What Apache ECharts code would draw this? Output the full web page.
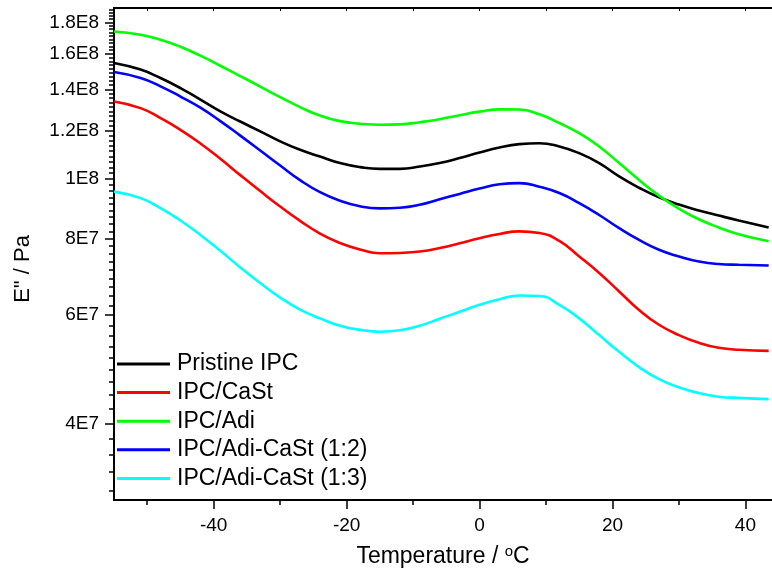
<!DOCTYPE html>
<html><head><meta charset="utf-8">
<script src="https://cdn.jsdelivr.net/npm/echarts@6/dist/echarts.min.js"></script>
<style>html,body{margin:0;padding:0;background:#fff}#c{width:772px;height:579px}</style>
</head><body><div id="c"></div>
<script>
// Temperature (°C)
const temperature = [-55,-51,-48,-45,-42,-39,-36,-33,-30,-27,-24,-21,-18,-15,-12,-9,-6,-3,0,3,6,9,12,15,18,21,24,27,30,33,36,39,43.5];
// E'' (Pa)
const pristineIPC = [1.546e8,1.508e8,1.461e8,1.407e8,1.347e8,1.289e8,1.241e8,1.196e8,1.152e8,1.116e8,1.088e8,1.062e8,1.046e8,1.039e8,1.039e8,1.048e8,1.062e8,1.082e8,1.105e8,1.126e8,1.140e8,1.144e8,1.130e8,1.102e8,1.062e8,1.010e8,9.68e7,9.34e7,9.09e7,8.89e7,8.72e7,8.56e7,8.34e7];
const ipcCaSt = [1.338e8,1.305e8,1.257e8,1.203e8,1.143e8,1.079e8,1.015e8,9.56e7,9.02e7,8.55e7,8.15e7,7.87e7,7.68e7,7.57e7,7.58e7,7.62e7,7.72e7,7.86e7,8.01e7,8.14e7,8.22e7,8.17e7,7.93e7,7.48e7,7.03e7,6.56e7,6.12e7,5.79e7,5.57e7,5.41e7,5.31e7,5.27e7,5.25e7];
const ipcAdi = [1.740e8,1.719e8,1.687e8,1.643e8,1.589e8,1.530e8,1.472e8,1.415e8,1.360e8,1.310e8,1.269e8,1.243e8,1.231e8,1.226e8,1.228e8,1.238e8,1.252e8,1.271e8,1.288e8,1.299e8,1.298e8,1.275e8,1.234e8,1.188e8,1.130e8,1.062e8,9.97e7,9.40e7,8.95e7,8.60e7,8.34e7,8.13e7,7.92e7];
const ipcAdiCaSt12 = [1.494e8,1.461e8,1.416e8,1.363e8,1.307e8,1.243e8,1.177e8,1.113e8,1.052e8,9.96e7,9.52e7,9.22e7,9.03e7,8.96e7,8.98e7,9.08e7,9.27e7,9.46e7,9.65e7,9.81e7,9.85e7,9.72e7,9.49e7,9.14e7,8.74e7,8.32e7,7.96e7,7.67e7,7.48e7,7.34e7,7.27e7,7.25e7,7.23e7];
const ipcAdiCaSt13 = [9.54e7,9.31e7,8.97e7,8.56e7,8.11e7,7.64e7,7.18e7,6.77e7,6.41e7,6.13e7,5.93e7,5.77e7,5.68e7,5.64e7,5.67e7,5.77e7,5.92e7,6.08e7,6.24e7,6.37e7,6.46e7,6.45e7,6.24e7,5.93e7,5.57e7,5.23e7,4.94e7,4.72e7,4.58e7,4.48e7,4.42e7,4.40e7,4.38e7];

const seriesNames = ['Pristine IPC','IPC/CaSt','IPC/Adi','IPC/Adi-CaSt (1:2)','IPC/Adi-CaSt (1:3)'];
const seriesData = [pristineIPC, ipcCaSt, ipcAdi, ipcAdiCaSt12, ipcAdiCaSt13];
const seriesColors = ['#000000','#ff0000','#00ff00','#0000ff','#00ffff'];

const yTickValues = [4e7,6e7,8e7,1e8,1.2e8,1.4e8,1.6e8,1.8e8];
const yTickLabels = ['4E7','6E7','8E7','1E8','1.2E8','1.4E8','1.6E8','1.8E8'];
const xMajorTicks = [-40,-20,0,20,40];
const xMinorTicks = [-50,-30,-10,10,30];
const xTopTicks = [-50,-40,-30,-20,-10,0,10,20,30,40];

const yMin = 3e7, yMax = 1.9e8;
const xMin = -55, xMax = 44;

// minor y ticks: 8 per major interval
const yMinor = [];
const step = (yTickValues[1] - yTickValues[0]) / 9;
for (let v = yTickValues[0] - step; v > yMin; v -= step) yMinor.push(v);
for (let i = 0; i < yTickValues.length - 1; i++) {
  for (let k = 1; k <= 8; k++) yMinor.push(yTickValues[i] + k * step);
}
for (let v = yTickValues[yTickValues.length - 1] + step; v < yMax; v += step) yMinor.push(v);

const FONT = "'Liberation Sans', Arial, sans-serif";

const chart = echarts.init(document.getElementById('c'), null, {renderer: 'canvas'});
chart.setOption({
  backgroundColor: '#ffffff',
  animation: false,
  grid: {left: 114, top: 8, right: 0, bottom: 79, containLabel: false},
  legend: {
    orient: 'vertical', left: 112, top: 347,
    itemWidth: 53, itemHeight: 3, itemGap: 4.6, icon: 'rect',
    textStyle: {fontFamily: FONT, fontSize: 23, color: '#000', lineHeight: 24, padding: [0,0,0,2]},
    data: seriesNames
  },
  xAxis: [
    {
      type: 'value', min: xMin, max: xMax, position: 'bottom',
      name: '{t|Temperature / }{s|o}{t|C}', nameLocation: 'middle', nameGap: 44,
      nameTextStyle: {rich: {
        t: {fontFamily: FONT, fontSize: 23, color: '#000', lineHeight: 26},
        s: {fontFamily: FONT, fontSize: 15, color: '#000', lineHeight: 26, padding: [0,0,10,0]}
      }},
      axisLine: {show: true, onZero: false, lineStyle: {color: '#000', width: 2}},
      axisTick: {show: true, inside: false, length: 9, customValues: xMajorTicks, lineStyle: {color: '#000', width: 1.5}},
      axisLabel: {show: true, customValues: xMajorTicks, fontFamily: FONT, fontSize: 19, color: '#000', margin: 16},
      splitLine: {show: false}
    },
    {
      type: 'value', min: xMin, max: xMax, position: 'bottom',
      axisLine: {show: false, onZero: false},
      axisTick: {show: true, inside: false, length: 5, customValues: xMinorTicks, lineStyle: {color: '#000', width: 1.5}},
      axisLabel: {show: false}, splitLine: {show: false}
    },
    {
      type: 'value', min: xMin, max: xMax, position: 'top',
      axisLine: {show: true, onZero: false, lineStyle: {color: '#000', width: 2}},
      axisTick: {show: true, inside: true, length: 3, customValues: xTopTicks, lineStyle: {color: '#000', width: 1}},
      axisLabel: {show: false}, splitLine: {show: false}
    }
  ],
  yAxis: [
    {
      type: 'log', logBase: 10, min: yMin, max: yMax, position: 'left',
      name: 'E" / Pa', nameLocation: 'middle', nameGap: 80, nameRotate: 90,
      nameTextStyle: {fontFamily: FONT, fontSize: 22, color: '#000', padding: [0, 30, 0, 0]},
      axisLine: {show: true, onZero: false, lineStyle: {color: '#000', width: 2}},
      axisTick: {show: true, inside: false, length: 9, customValues: yTickValues, lineStyle: {color: '#000', width: 1.5}},
      axisLabel: {
        show: true, customValues: yTickValues, fontFamily: FONT, fontSize: 19, color: '#000', margin: 15,
        formatter: function (v) {
          let best = 0;
          for (let i = 1; i < yTickValues.length; i++) {
            if (Math.abs(yTickValues[i] - v) < Math.abs(yTickValues[best] - v)) best = i;
          }
          return yTickLabels[best];
        }
      },
      splitLine: {show: false}
    },
    {
      type: 'log', logBase: 10, min: yMin, max: yMax, position: 'left',
      axisLine: {show: false, onZero: false},
      axisTick: {show: true, inside: false, length: 5, customValues: yMinor, lineStyle: {color: '#000', width: 1.5}},
      axisLabel: {show: false}, splitLine: {show: false}
    }
  ],
  series: seriesNames.map(function (name, i) {
    return {
      name: name, type: 'line', xAxisIndex: 0, yAxisIndex: 0,
      smooth: 0.5, showSymbol: false, symbol: 'none',
      lineStyle: {color: seriesColors[i], width: 2.6},
      itemStyle: {color: seriesColors[i]},
      data: temperature.map(function (t, j) { return [t, seriesData[i][j]]; })
    };
  })
});
</script>
</body></html>
